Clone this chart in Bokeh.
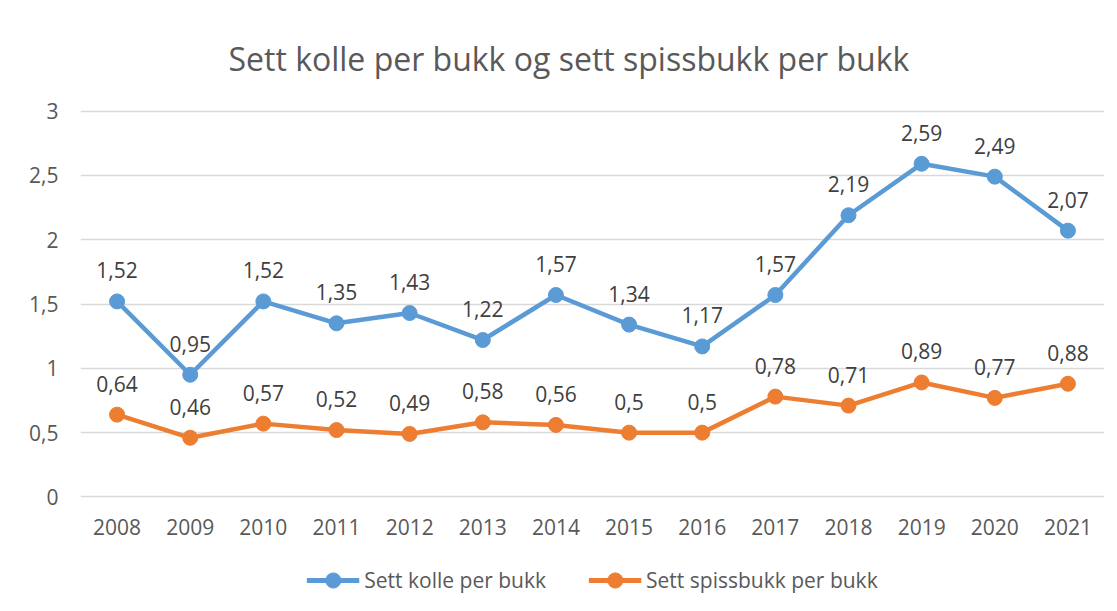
from bokeh.plotting import figure
from bokeh.layouts import column
from bokeh.models import (FactorRange, Range1d, FixedTicker, Legend, LegendItem,
                          ColumnDataSource, LabelSet, Title)
from bokeh.core.properties import value
from bokeh.embed import file_html
from bokeh.resources import INLINE

years = ["2008", "2009", "2010", "2011", "2012", "2013", "2014",
         "2015", "2016", "2017", "2018", "2019", "2020", "2021"]
kolle = [1.52, 0.95, 1.52, 1.35, 1.43, 1.22, 1.57, 1.34, 1.17, 1.57, 2.19, 2.59, 2.49, 2.07]
spissbukk = [0.64, 0.46, 0.57, 0.52, 0.49, 0.58, 0.56, 0.5, 0.5, 0.78, 0.71, 0.89, 0.77, 0.88]
y_ticks = [0, 0.5, 1, 1.5, 2, 2.5, 3]
y_tick_labels = ["0", "0,5", "1", "1,5", "2", "2,5", "3"]
series_names = ["Sett kolle per bukk", "Sett spissbukk per bukk"]
title_text = "Sett kolle per bukk og sett spissbukk per bukk"

FONT = "Open Sans"
TXT = "#595959"
BLUE = "#5B9BD5"
ORANGE = "#ED7D31"
colors = [BLUE, ORANGE]


def fmt(v):
    s = ("%.2f" % v).rstrip("0").rstrip(".")
    return s.replace(".", ",")


p = figure(width=1106, height=553, output_backend="svg", toolbar_location=None,
           x_range=FactorRange(factors=years), y_range=Range1d(-0.012, 3.012),
           min_border_left=80, min_border_right=2, min_border_top=109,
           min_border_bottom=55)
p.outline_line_color = None

t = Title(text=title_text, align="left", text_font=FONT, text_font_size="32px",
          text_font_style="normal", text_color=TXT, standoff=60, offset=148)
p.add_layout(t, "above")

p.xgrid.grid_line_color = None
p.ygrid.grid_line_color = "#D9D9D9"
p.ygrid.grid_line_width = 1.5

p.yaxis.ticker = FixedTicker(ticks=y_ticks)
p.yaxis.major_label_overrides = {t_: l for t_, l in zip(y_ticks, y_tick_labels)}
for ax in (p.xaxis, p.yaxis):
    ax.axis_line_color = None
    ax.major_tick_line_color = None
    ax.minor_tick_line_color = None
    ax.major_label_text_font = FONT
    ax.major_label_text_font_size = "21px"
    ax.major_label_text_color = TXT
p.yaxis.major_label_standoff = 16
p.xaxis.major_label_standoff = 14

sources = []
for vals, color in ((kolle, BLUE), (spissbukk, ORANGE)):
    src = ColumnDataSource(dict(x=years, y=vals, lab=[fmt(v) for v in vals]))
    sources.append(src)
    p.line("x", "y", source=src, line_color=color, line_width=4.5)
    p.scatter("x", "y", source=src, size=15, fill_color=color, line_color=color)
    labels = LabelSet(x="x", y="y", text="lab", source=src, y_offset=31,
                      text_align="center", text_baseline="middle",
                      text_font=value(FONT), text_font_size="21px", text_color="#404040")
    p.add_layout(labels)

# legend strip below the chart (series drawn out of view, only the legend shows)
lg = figure(width=1106, height=50, output_backend="svg", toolbar_location=None,
            x_range=FactorRange(factors=years), y_range=Range1d(100, 101),
            x_axis_type=None, y_axis_type=None,
            min_border_left=13, min_border_right=0, min_border_top=4, min_border_bottom=0)
lg.outline_line_color = None
lg.xgrid.grid_line_color = None
lg.ygrid.grid_line_color = None
items = []
for name, color, src in zip(series_names, colors, sources):
    l1 = lg.line("x", "y", source=src, line_color=color, line_width=5)
    s1 = lg.scatter("x", "y", source=src, size=15, fill_color=color, line_color=color)
    items.append(LegendItem(label=name, renderers=[l1, s1]))
legend = Legend(items=items, orientation="horizontal", location="center",
                label_text_font=FONT, label_text_font_size="21px", label_text_color=TXT,
                glyph_width=53, glyph_height=38, spacing=42, label_standoff=5,
                border_line_color=None, background_fill_alpha=0, margin=0, padding=0)
lg.add_layout(legend, "center")

layout = column(p, lg, spacing=0)
open("out.html", "w").write(file_html(layout, INLINE))
